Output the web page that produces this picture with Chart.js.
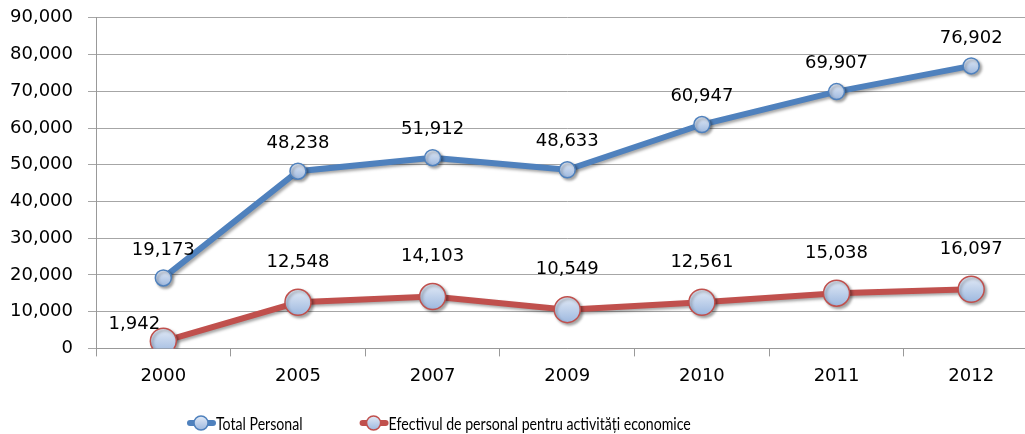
<!DOCTYPE html>
<html>
<head>
<meta charset="utf-8">
<script src="https://cdn.jsdelivr.net/npm/chart.js@4/dist/chart.umd.min.js"></script>
<style>
  html, body { margin: 0; padding: 0; background: #fff; overflow: hidden; }
  #wrap { width: 1025px; height: 434px; overflow: hidden; }
  #chart { display: block; margin-top: -8px; }
</style>
</head>
<body>
<div id="wrap"><canvas id="chart" width="1053" height="442"></canvas></div>
<script>
const years = ['2000', '2005', '2007', '2009', '2010', '2011', '2012'];
const totalPersonal = [19173, 48238, 51912, 48633, 60947, 69907, 76902];
const efectiv = [1942, 12548, 14103, 10549, 12561, 15038, 16097];

const blue = '#4f81bd';
const red = '#c0504d';
const pointFill = '#bcd0ec';
const tickFont = { family: 'DejaVu Sans', size: 18 };

// light-blue gradient fill for the markers, like the excel style
function markerFill(radius) {
  return (c) => {
    const chart = c.chart;
    if (c.type !== 'data' || !chart.scales.y) return pointFill;
    const y = chart.scales.y.getPixelForValue(c.raw);
    if (!isFinite(y)) return pointFill;
    const g = chart.ctx.createLinearGradient(0, y - radius, 0, y + radius);
    g.addColorStop(0, '#e2eaf6');
    g.addColorStop(1, '#9db8df');
    return g;
  };
}

const shadowPlugin = {
  id: 'shadow',
  beforeDatasetsDraw(chart) {
    const ctx = chart.ctx;
    ctx.save();
    ctx.shadowColor = 'rgba(0,0,0,0.35)';
    ctx.shadowBlur = 3;
    ctx.shadowOffsetX = 2;
    ctx.shadowOffsetY = 2;
  },
  afterDatasetsDraw(chart) {
    chart.ctx.restore();
  }
};

const valueLabels = {
  id: 'valueLabels',
  afterDraw(chart) {
    const ctx = chart.ctx;
    ctx.save();
    ctx.font = '18px "DejaVu Sans"';
    ctx.fillStyle = '#000';
    ctx.textAlign = 'center';
    ctx.textBaseline = 'middle';
    chart.data.datasets.forEach((ds, i) => {
      const meta = chart.getDatasetMeta(i);
      meta.data.forEach((pt, j) => {
        let dx = 0, dy = i === 0 ? -28 : -40;
        if (i === 1 && j === 0) { dx = -29; dy = -17; }
        ctx.fillText(ds.data[j].toLocaleString('en-US'), pt.x + dx, pt.y + dy);
      });
    });
    ctx.restore();
  }
};

// excel-like legend: line + marker icon, narrow text
const legendPlugin = {
  id: 'excelLegend',
  afterDraw(chart) {
    const ctx = chart.ctx;
    const y = 431;
    let x = 187;
    ctx.save();
    chart.data.datasets.forEach(ds => {
      ctx.strokeStyle = ds.borderColor;
      ctx.lineWidth = 6;
      ctx.lineCap = 'round';
      ctx.beginPath(); ctx.moveTo(x + 3, y); ctx.lineTo(x + 26, y); ctx.stroke();
      const g = ctx.createLinearGradient(0, y - 7, 0, y + 7);
      g.addColorStop(0, '#e2eaf6');
      g.addColorStop(1, '#9db8df');
      ctx.fillStyle = g;
      ctx.lineWidth = 1.5;
      ctx.beginPath(); ctx.arc(x + 14, y, 7, 0, Math.PI * 2); ctx.fill(); ctx.stroke();
      x += 29;
      ctx.font = '18px Lato';
      ctx.fillStyle = '#000';
      ctx.textBaseline = 'middle';
      const sx = 0.785;
      ctx.save();
      ctx.translate(x, y);
      ctx.scale(sx, 1);
      ctx.fillText(ds.label, 0, 1);
      ctx.restore();
      x += ctx.measureText(ds.label).width * sx + 57;
    });
    ctx.restore();
  }
};

new Chart(document.getElementById('chart'), {
  type: 'line',
  data: {
    labels: years,
    datasets: [
      {
        label: 'Total Personal',
        data: totalPersonal,
        borderColor: blue,
        borderWidth: 6,
        pointRadius: 8,
        pointBorderWidth: 1.5,
        pointBackgroundColor: markerFill(8),
        pointBorderColor: blue,
        tension: 0
      },
      {
        label: 'Efectivul de personal pentru activități economice',
        data: efectiv,
        borderColor: red,
        borderWidth: 6,
        pointRadius: 13,
        pointBorderWidth: 1.5,
        pointBackgroundColor: markerFill(13),
        pointBorderColor: red,
        tension: 0
      }
    ]
  },
  options: {
    responsive: false,
    animation: false,
    layout: { padding: { left: 8, right: 0, top: 0, bottom: 38 } },
    plugins: {
      tooltip: { enabled: false },
      legend: { display: false }
    },
    scales: {
      x: {
        offset: true,
        grid: { display: true, drawOnChartArea: false, tickLength: 8, color: '#999', offset: true },
        border: { color: '#999' },
        ticks: { font: tickFont, color: '#000', padding: 9 }
      },
      y: {
        min: 0,
        max: 90000,
        afterFit(scale) { scale.width = 88; },
        ticks: {
          stepSize: 10000,
          font: tickFont,
          color: '#000',
          padding: 15,
          callback: v => v.toLocaleString('en-US')
        },
        grid: { color: '#a6a6a6', tickLength: 8 },
        border: { color: '#999' }
      }
    }
  },
  plugins: [shadowPlugin, valueLabels, legendPlugin]
});
</script>
</body>
</html>
